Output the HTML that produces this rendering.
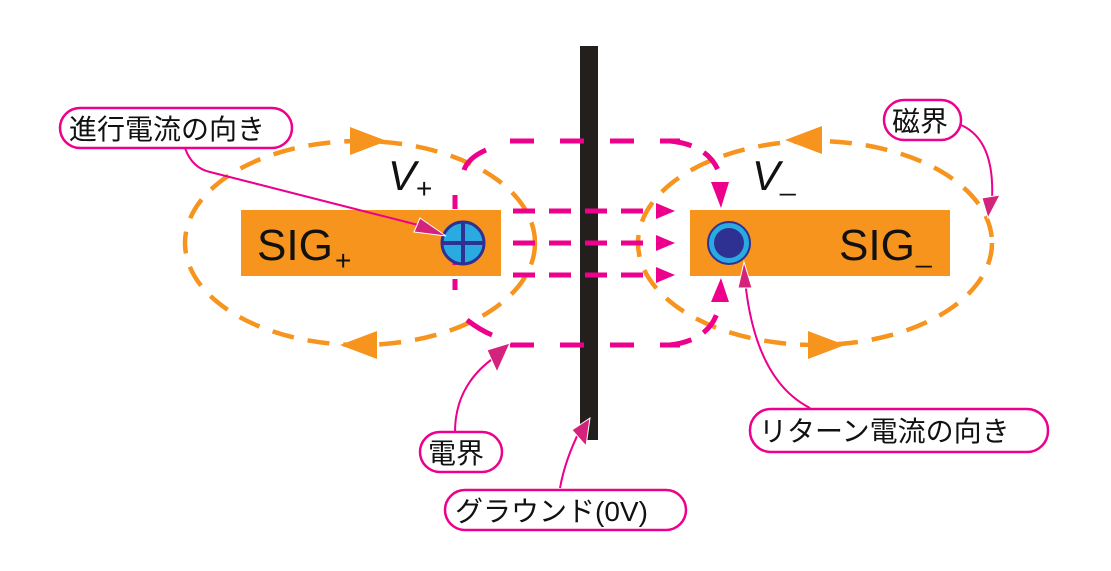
<!DOCTYPE html>
<html><head><meta charset="utf-8"><style>
html,body{margin:0;padding:0;background:#fff;width:1111px;height:571px;overflow:hidden}
text{font-family:"Liberation Sans","Noto Sans CJK JP",sans-serif}
</style></head><body>
<svg width="1111" height="571" viewBox="0 0 1111 571" xmlns="http://www.w3.org/2000/svg">
<rect x="580" y="46" width="18" height="394" fill="#231f1c"/>
<rect x="241" y="210" width="260" height="66" fill="#f7941d"/>
<rect x="690" y="210" width="260" height="66" fill="#f7941d"/>
<ellipse cx="360" cy="243" rx="175" ry="102" fill="none" stroke="#f7941d" stroke-width="4.5" stroke-dasharray="22,14"/>
<ellipse cx="815" cy="243" rx="177" ry="102" fill="none" stroke="#f7941d" stroke-width="4.5" stroke-dasharray="22,14"/>
<path d="M350,127 L387,141 L350,155 z" fill="#f7941d"/>
<path d="M377,331 L340,345 L377,359 z" fill="#f7941d"/>
<path d="M822,126 L785,140 L822,154 z" fill="#f7941d"/>
<path d="M808,331 L845,345 L808,359 z" fill="#f7941d"/>
<g stroke="#ec008c" stroke-width="5" fill="none" stroke-dasharray="24,26">
<path d="M510,141 H680"/>
<path d="M510,345 H680"/>
</g>
<g stroke="#ec008c" stroke-width="5" fill="none" stroke-dasharray="22,14">
<path d="M513,211 H660"/><path d="M513,243 H660"/><path d="M513,275 H660"/>
</g>
<path d="M486,150 Q468,158 464,170" stroke="#ec008c" stroke-width="5" fill="none"/>
<path d="M455,195 V290" stroke="#ec008c" stroke-width="5" fill="none" stroke-dasharray="14,14"/>
<path d="M467,320 Q480,330 492,335" stroke="#ec008c" stroke-width="5" fill="none"/>
<path d="M670,141 Q710,145 720,175" stroke="#ec008c" stroke-width="5" fill="none" stroke-dasharray="22,14"/>
<path d="M670,345 Q710,340 718,310" stroke="#ec008c" stroke-width="5" fill="none" stroke-dasharray="22,14"/>
<g fill="#ec008c">
<path d="M656,203 L675,211 L656,219 z"/><path d="M656,235 L675,243 L656,251 z"/><path d="M656,267 L675,275 L656,283 z"/>
<path d="M711,182 L729,182 L721,208 z"/>
<path d="M711,302 L729,302 L721,278 z"/>
</g>
<circle cx="463" cy="243" r="21" fill="#29abe2" stroke="#2e3192" stroke-width="3"/>
<path d="M442,243 H484 M463,222 V264" stroke="#2e3192" stroke-width="4"/>
<circle cx="729" cy="243" r="21" fill="#29abe2" stroke="#2e3192" stroke-width="2"/>
<circle cx="729" cy="243" r="15" fill="#2e3192"/>
<text x="257" y="260" font-size="44" fill="#111" textLength="76" lengthAdjust="spacingAndGlyphs">SIG</text>
<text x="335" y="270" font-size="28" fill="#111">+</text>
<text x="839" y="260" font-size="44" fill="#111" textLength="76" lengthAdjust="spacingAndGlyphs">SIG</text>
<text x="916" y="262" font-size="28" fill="#111">_</text>
<text x="388" y="190" font-size="42" font-style="italic" fill="#111">V</text>
<text x="416" y="198" font-size="28" fill="#111">+</text>
<text x="752" y="190" font-size="42" font-style="italic" fill="#111">V</text>
<text x="780" y="190" font-size="28" fill="#111">_</text>
<g stroke="#ec008c" stroke-width="2" fill="none">
<path d="M185,148 Q192,168 210,172 L430,228"/>
<path d="M961,125 Q995,140 992,200"/>
<path d="M455,432 Q455,385 495,357"/>
<path d="M560,488 Q565,460 580,430"/>
<path d="M810,408 Q755,380 745,280"/>
</g>
<g fill="#d4237a" stroke="#fff" stroke-width="1">
<path d="M420,218 L446,236 L414,232 z"/>
<path d="M982,198 L1000,195 L988,218 z"/>
<path d="M487,350 L510,343 L497,372 z"/>
<path d="M572,430 L590,418 L586,446 z"/>
<path d="M738,288 L744,262 L752,288 z"/>
</g>
<g fill="#fff" stroke="#ec008c" stroke-width="2.5">
<rect x="60" y="108" width="232" height="40" rx="20"/>
<rect x="884" y="100" width="77" height="40" rx="20"/>
<rect x="420" y="432" width="82" height="40" rx="20"/>
<rect x="445" y="490" width="241" height="40" rx="20"/>
<rect x="750" y="409" width="298" height="43" rx="21"/>
</g>
<g font-size="28" fill="#111">
<text x="69" y="139">進行電流の向き</text>
<text x="892" y="131">磁界</text>
<text x="428" y="463">電界</text>
<text x="455" y="521">グラウンド(0V)</text>
<text x="759" y="441">リターン電流の向き</text>
</g>
</svg>
</body></html>
